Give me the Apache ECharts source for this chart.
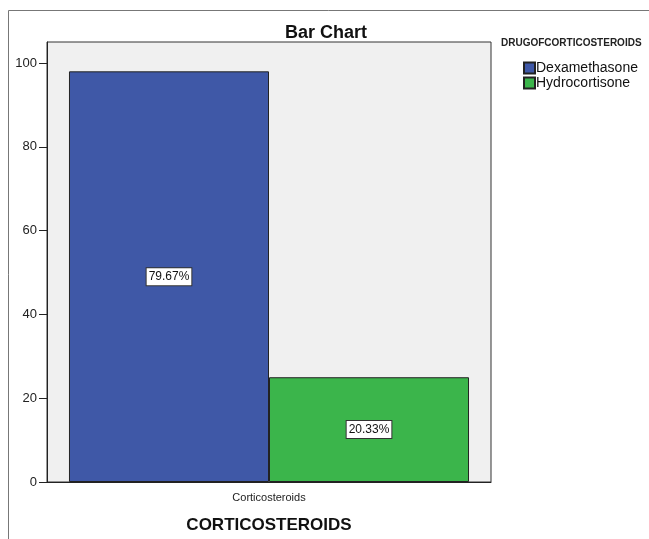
<!DOCTYPE html>
<html><head><meta charset="utf-8">
<script src="https://cdn.jsdelivr.net/npm/echarts@6/dist/echarts.min.js"></script>
<style>html,body{margin:0;padding:0;background:#fff}#c{width:649px;height:539px}</style>
</head><body><div id="c"></div>
<script>
const categories = ["Corticosteroids"];
const seriesNames = ["Dexamethasone", "Hydrocortisone"];
const dexamethasone = [98];
const hydrocortisone = [25];
const percentLabels = ["79.67%", "20.33%"];
const yTicks = [0, 20, 40, 60, 80, 100];
const colors = ["#3f58a7", "#3bb54b"];

const chart = echarts.init(document.getElementById('c'));
const labelStyle = (txt) => ({
  show: true, position: 'inside', formatter: txt,
  color: '#111', backgroundColor: '#fff', borderColor: '#333', borderWidth: 1,
  padding: [3, 2, 2, 2], fontFamily: 'Liberation Sans, Arial', fontSize: 12
});
chart.setOption({
  animation: false,
  graphic: [
    {type: 'line', shape: {x1: 8.5, y1: 10.5, x2: 649, y2: 10.5}, style: {stroke: '#777', lineWidth: 1}},
    {type: 'line', shape: {x1: 8.5, y1: 10.5, x2: 8.5, y2: 539}, style: {stroke: '#777', lineWidth: 1}},
    {type: 'text', left: 501, top: 38, style: {text: 'DRUGOFCORTICOSTEROIDS', font: 'bold 10px Liberation Sans, Arial', fill: '#222'}}
  ],
  title: {text: 'Bar Chart', left: 321, textAlign: 'center', top: 19,
    textStyle: {fontFamily: 'Liberation Sans, Arial', fontSize: 18, fontWeight: 'bold', color: '#111'}},
  legend: {orient: 'vertical', left: 518, top: 56, itemWidth: 11, itemHeight: 11, itemGap: 1,
    icon: 'rect', data: seriesNames,
    textStyle: {fontFamily: 'Liberation Sans, Arial', fontSize: 14, lineHeight: 12, color: '#111', padding: [0, 0, 0, -4]}},
  grid: {left: 47, right: 158, top: 42, bottom: 53, show: true, backgroundColor: '#f0f0f0', borderColor: '#333', borderWidth: 1},
  xAxis: {type: 'category', data: categories,
    name: 'CORTICOSTEROIDS', nameLocation: 'middle', nameGap: 35,
    nameTextStyle: {fontFamily: 'Liberation Sans, Arial', fontSize: 17, fontWeight: 'bold', color: '#111'},
    axisLine: {lineStyle: {color: '#222'}},
    axisTick: {alignWithLabel: true, length: 8, lineStyle: {color: '#222'}},
    axisLabel: {color: '#222', fontFamily: 'Liberation Sans, Arial', fontSize: 11, margin: 10}},
  yAxis: {type: 'value', min: 0, max: 105, interval: 20,
    axisLine: {show: true, lineStyle: {color: '#222'}},
    axisTick: {show: true, length: 8, customValues: yTicks, lineStyle: {color: '#222'}},
    splitLine: {show: false},
    axisLabel: {color: '#222', fontFamily: 'Liberation Sans, Arial', fontSize: 13, margin: 10,
      customValues: yTicks, formatter: v => String(v)}},
  series: [
    {name: seriesNames[0], type: 'bar', data: dexamethasone, barGap: '0%', barCategoryGap: '9.9%',
      itemStyle: {color: colors[0], borderColor: '#222', borderWidth: 1}, label: labelStyle(percentLabels[0])},
    {name: seriesNames[1], type: 'bar', data: hydrocortisone, barGap: '0%', barCategoryGap: '9.9%',
      itemStyle: {color: colors[1], borderColor: '#222', borderWidth: 1}, label: labelStyle(percentLabels[1])}
  ]
});
</script></body></html>
